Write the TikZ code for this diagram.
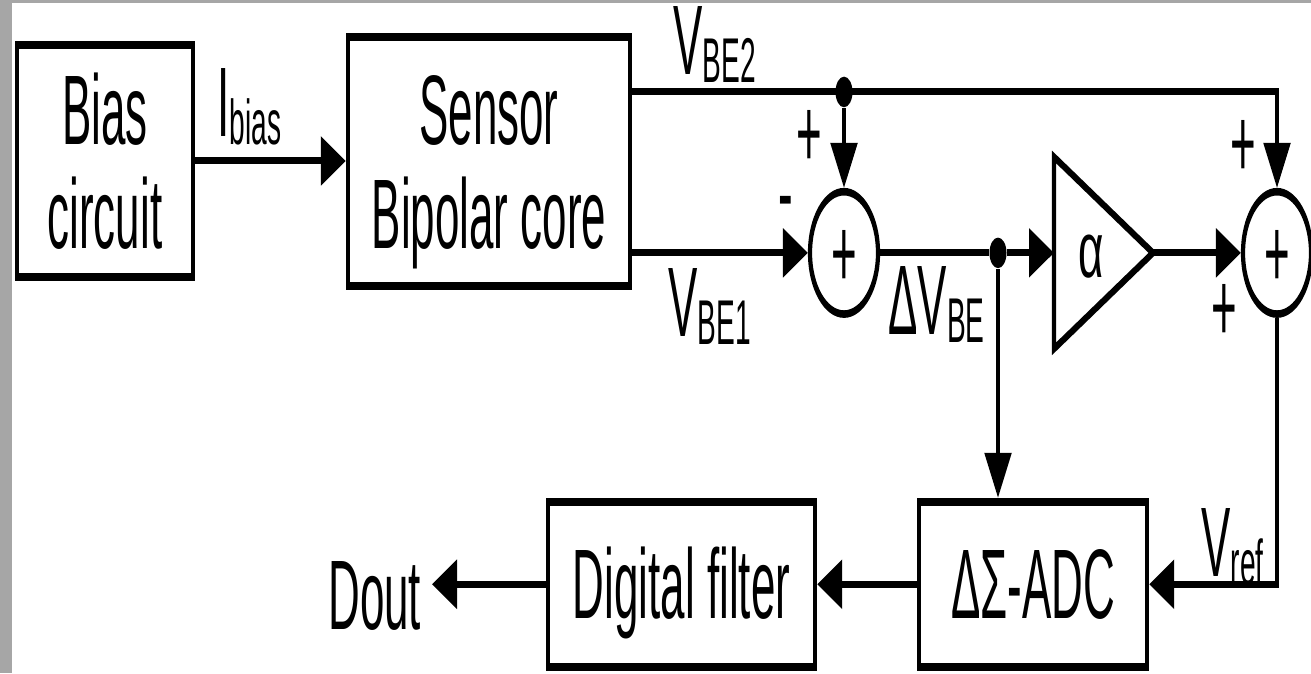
\documentclass[tikz,border=0pt]{standalone}
\usepackage{fontspec}
\setmainfont{Liberation Sans}
\usetikzlibrary{arrows.meta}
\definecolor{frame}{HTML}{A6A6A6}
\newdimen\pxu \pxu=0.02cm
\newdimen\pyu \pyu=0.011111cm
\newcommand{\tall}[1]{\scalebox{1}[1.25]{#1}}
\newcommand{\lowidx}[1]{\raisebox{-2pt}{\fontsize{16}{17}\selectfont #1}}
\newcommand{\boxtxt}[1]{\tall{\raisebox{0pt}[\height][\dimexpr\depth-7.4pt\relax]{\begin{tabular}{@{}c@{}}#1\end{tabular}}}}
\tikzset{
  >={Triangle[length=0.5cm,width=0.53cm]},
  blk/.style={draw, line width=2.5pt, inner sep=0pt, font=\fontsize{25}{26.3}\selectfont},
  sig/.style={line width=2.2pt},
  sumnode/.style={draw, circle, line width=2.4pt, minimum size=68\pxu, inner sep=0pt,
    text height=22pt, text depth=0pt, font=\fontsize{25}{26.3}\selectfont},
  dot/.style={circle, fill, inner sep=0pt, minimum size=17\pxu},
  lbl/.style={inner sep=0pt, font=\fontsize{25}{26.3}\selectfont},
  sgn/.style={lbl, text height=22pt, text depth=0pt}
}
\begin{document}
\begin{tikzpicture}[x=0.02cm, y=-0.02cm]
  \useasboundingbox (0,0) rectangle (1311,673);
  \begin{scope}[y=-0.011111cm, transform canvas={yscale=1.8}]
    % blocks
    \node[blk, minimum width=176\pxu, minimum height=232\pyu] (bias) at (105,161) {\boxtxt{Bias\\circuit}};
    \node[blk, minimum width=282\pxu, minimum height=249\pyu] (core) at (489,161.5) {\boxtxt{Sensor\\Bipolar core}};
    \node[blk, minimum width=228\pxu, minimum height=165\pyu] (adc) at (1033,584.5) {\boxtxt{ΔΣ-ADC}};
    \node[blk, minimum width=267\pxu, minimum height=165\pyu] (filter) at (681.5,584.5) {\boxtxt{Digital filter}};
    % summers, gain stage, junctions
    \node[sumnode] (sum1) at (844,253) {\tall{+}};
    \node[sumnode] (sum2) at (1277,253) {\tall{+}};
    \draw[line width=2.4pt] (1054,157) -- (1054,349) -- (1153,253) -- cycle;
    \coordinate (ampin) at (1054,253);
    \coordinate (ampout) at (1153,253);
    \node[lbl] (alpha) at (1091,257) {α};
    \node[dot] (d1) at (844,92) {};
    \node[dot] (d2) at (998,253) {};
    \coordinate (dtip) at (432,584.5);
    % signs
    \node[sgn] (p1) at (809,133) {\tall{+}};
    \node[sgn] (m1) at (786,192) {\tall{-}};
    \node[sgn] (p2) at (1243,143) {\tall{+}};
    \node[sgn] (p3) at (1224,307) {\tall{+}};
    % connections
    \draw[sig,->] (bias.east) -- (bias.east -| core.west);
    \draw[sig,->] (core.east |- d1) -- (d1 -| sum2) -- (sum2.north);
    \draw[sig,->] (d1) -- (sum1.north);
    \draw[sig,->] (core.east |- sum1) -- (sum1.west);
    \draw[sig] (sum1.east) -- (d2);
    \draw[sig,->] (d2) -- (ampin);
    \draw[sig,->] (d2) -- (d2 |- adc.north);
    \draw[sig,->] (ampout) -- (sum2.west);
    \draw[sig,->] (sum2.south) -- (sum2.south |- adc.east) -- (adc.east);
    \draw[sig,->] (adc.west) -- (filter.east);
    \draw[sig,->] (filter.west) -- (dtip);
    % labels
    \node[lbl, anchor=base west] (ibias) at (217,137) {\tall{I\lowidx{bias}}};
    \node[lbl, anchor=base west] (vbe2) at (673,75) {\tall{V\lowidx{BE2}}};
    \node[lbl, anchor=base west] (vbe1) at (668,337) {\tall{V\lowidx{BE1}}};
    \node[lbl, anchor=base west] (dvbe) at (888,335) {\tall{ΔV\lowidx{BE}}};
    \node[lbl, anchor=base west] (vref) at (1201,577) {\tall{V\lowidx{ref}}};
    \node[lbl, anchor=base west] (dout) at (328,630) {\tall{Dout}};
  \end{scope}
  % frame
  \fill[frame] (0,0) rectangle (12,673);
  \fill[frame] (0,0) rectangle (1311,2.5);
\end{tikzpicture}
\end{document}
